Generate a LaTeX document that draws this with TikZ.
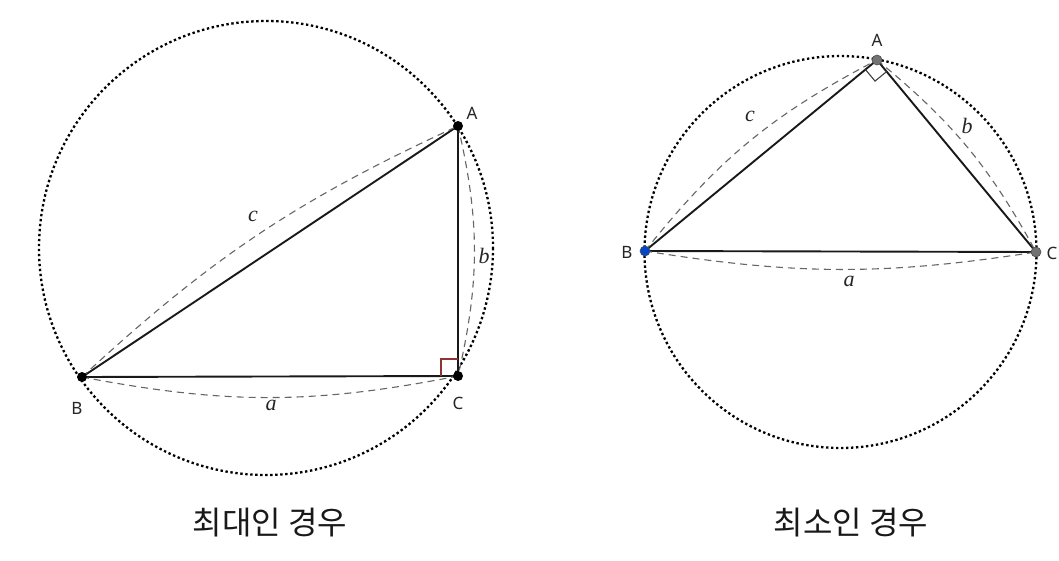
\documentclass[tikz,border=0pt]{standalone}
\usepackage{fontspec}
\usetikzlibrary{calc}
\newfontfamily\kr{Noto Sans CJK KR}
\newfontfamily\lbl{Noto Sans}
\newfontfamily\ital{Liberation Serif}
\begin{document}
\begin{tikzpicture}[x=1pt,y=-1pt,
  circ/.style={line width=2.3pt, dash pattern=on 2.4pt off 2.6pt, black},
  side/.style={line width=1.9pt, black!90},
  arcd/.style={line width=1.1pt, black!60, dash pattern=on 7pt off 5pt},
  pt/.style={circle, inner sep=0pt, minimum size=10pt, fill=black},
  ptg/.style={circle, inner sep=0pt, minimum size=10pt, fill=black!55, draw=black!70, line width=0.6pt},
  ptb/.style={circle, inner sep=0pt, minimum size=10pt, fill=blue!65!cyan!80!black, draw=black!70, line width=0.6pt},
  vlab/.style={font=\lbl\fontsize{17}{17}\selectfont, text=black!85},
  slab/.style={font=\ital\itshape\fontsize{22}{22}\selectfont, text=black!85},
  title/.style={font=\kr\fontsize{32}{32}\selectfont, text=black!90}
]
\useasboundingbox[fill=white] (0,0) rectangle (1059,561);

% ---------- left figure ----------
\coordinate (O1) at (266,248);
\draw[circ] (O1) circle[radius=227];
\coordinate (A1) at (458,126);
\coordinate (B1) at (82,377);
\coordinate (C1) at (458,376);
\draw[side] (B1) -- (C1) -- (A1) -- cycle;
\draw[line width=1.2pt, red!45!black!80] ($(C1)+(0,-17)$) -- ($(C1)+(-17,-17)$) -- ($(C1)+(-17,0)$);
\draw[arcd] (B1) to[bend right=11] (C1);
\draw[arcd] (B1) to[bend left=9] (A1);
\draw[arcd] (A1) to[bend left=13] (C1);
\node[pt] (A1d) at (A1) {};
\node[pt] (B1d) at (B1) {};
\node[pt] (C1d) at (C1) {};
\node[vlab] (A1l) at (472,113) {A};
\node[vlab] (B1l) at (77,408) {B};
\node[vlab] (C1l) at (458,403) {C};
\node[slab] (c1) at (253,216) {c};
\node[slab] (b1) at (484,256) {b};
\node[slab] (a1) at (271,405) {a};
\node[title] (t1) at (270,523) {최대인 경우};

% ---------- right figure ----------
\coordinate (O2) at (840.5,252);
\draw[circ] (O2) circle[radius=196];
\coordinate (A2) at (877,60);
\coordinate (B2) at (645,251);
\coordinate (C2) at (1036,252);
\draw[side] (B2) -- (C2) -- (A2) -- cycle;
\draw[line width=1.1pt, black!75] ($(A2)+(-11.6,9.5)$) -- ($(A2)+(-2,21.1)$) -- ($(A2)+(9.6,11.6)$);
\draw[arcd] (B2) to[bend right=9] (C2);
\draw[arcd] (B2) to[bend left=12] (A2);
\draw[arcd] (A2) to[bend left=11] (C2);
\node[ptg] (A2d) at (A2) {};
\node[ptb] (B2d) at (B2) {};
\node[ptg] (C2d) at (C2) {};
\node[vlab] (A2l) at (877,40) {A};
\node[vlab] (B2l) at (627,252) {B};
\node[vlab] (C2l) at (1052,253) {C};
\node[slab] (c2) at (750,116) {c};
\node[slab] (b2) at (967,126) {b};
\node[slab] (a2) at (849,281) {a};
\node[title] (t2) at (851,523) {최소인 경우};
\end{tikzpicture}
\end{document}
